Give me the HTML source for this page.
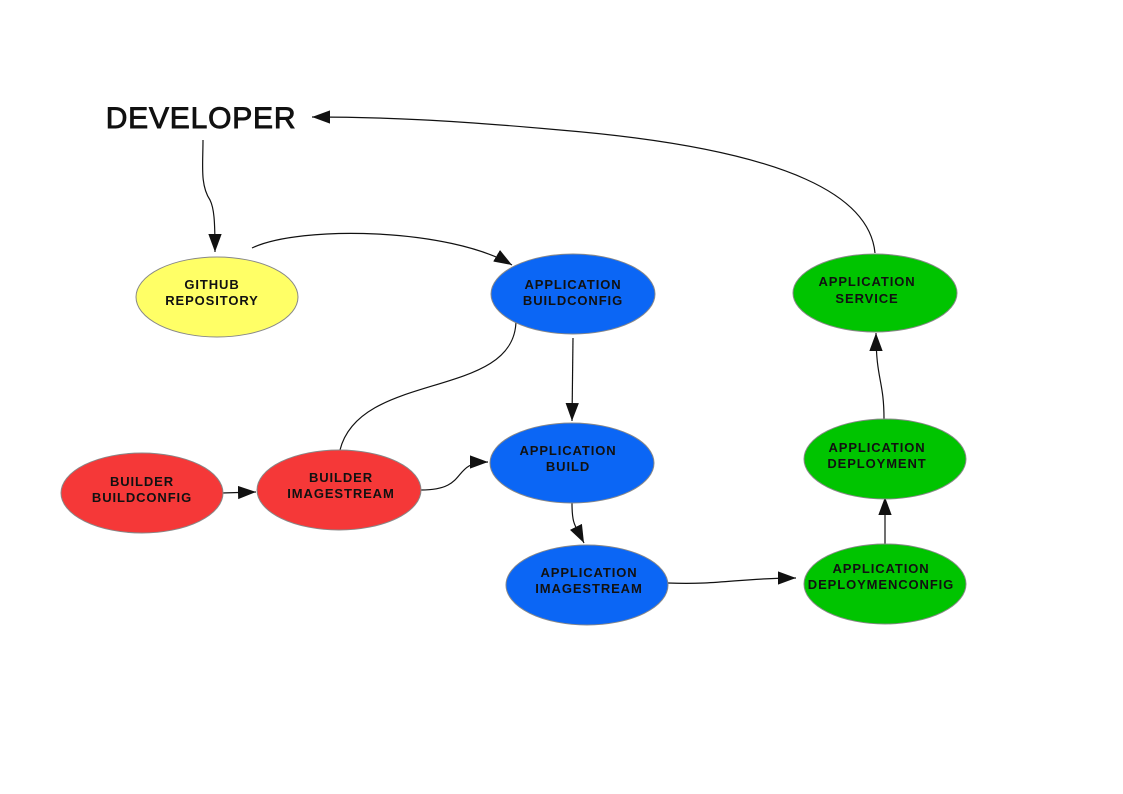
<!DOCTYPE html>
<html><head><meta charset="utf-8"><style>
html,body{margin:0;padding:0;background:#fff;}
svg{display:block;}
text{font-family:"Liberation Sans",Arial,sans-serif;font-weight:bold;font-size:13px;fill:#111;text-anchor:middle;letter-spacing:0.9px;}
</style></head><body>
<svg width="1123" height="794" viewBox="0 0 1123 794" xmlns="http://www.w3.org/2000/svg">
<defs>
<marker id="a" viewBox="0 0 10 10" refX="10" refY="5" markerWidth="18" markerHeight="18" markerUnits="userSpaceOnUse" orient="auto">
<path d="M0,1.3 L10,5 L0,8.7 z" fill="#111"/></marker>
</defs>
<g fill="none" stroke="#111" stroke-width="1.2">
<path d="M203,140 C203,165 200,185 210,200 C214,208 215,220 215,252" marker-end="url(#a)"/>
<path d="M252,248 C300,225 450,228 512,265" marker-end="url(#a)"/>
<path d="M875,253 C870,200 800,150 560,130 C450,120 380,117 312,117" marker-end="url(#a)"/>
<path d="M573,338 L572,421" marker-end="url(#a)"/>
<path d="M516,320 C516,400 360,370 340,450"/>
<path d="M222,493 L256,492" marker-end="url(#a)"/>
<path d="M421,490 C470,490 450,462 488,462" marker-end="url(#a)"/>
<path d="M572,503 C572,525 575,525 584,543" marker-end="url(#a)"/>
<path d="M668,583 C720,585 740,578 796,578" marker-end="url(#a)"/>
<path d="M885,544 L885,497" marker-end="url(#a)"/>
<path d="M884,419 C884,380 876,380 876,333" marker-end="url(#a)"/>
</g>
<g stroke="#888" stroke-width="1">
<ellipse cx="217" cy="297" rx="81" ry="40" fill="#ffff66"/>
<ellipse cx="573" cy="294" rx="82" ry="40" fill="#0b66f5"/>
<ellipse cx="875" cy="293" rx="82" ry="39" fill="#00c400"/>
<ellipse cx="142" cy="493" rx="81" ry="40" fill="#f53838"/>
<ellipse cx="339" cy="490" rx="82" ry="40" fill="#f53838"/>
<ellipse cx="572" cy="463" rx="82" ry="40" fill="#0b66f5"/>
<ellipse cx="885" cy="459" rx="81" ry="40" fill="#00c400"/>
<ellipse cx="587" cy="585" rx="81" ry="40" fill="#0b66f5"/>
<ellipse cx="885" cy="584" rx="81" ry="40" fill="#00c400"/>
</g>
<text x="201" y="128" style="font-size:30px;font-weight:normal;letter-spacing:0.8px;" stroke="#111" stroke-width="0.9">DEVELOPER</text>
<text x="212" y="289">GITHUB</text><text x="212" y="305">REPOSITORY</text>
<text x="573" y="289">APPLICATION</text><text x="573" y="305">BUILDCONFIG</text>
<text x="867" y="286">APPLICATION</text><text x="867" y="303">SERVICE</text>
<text x="142" y="486">BUILDER</text><text x="142" y="502">BUILDCONFIG</text>
<text x="341" y="482">BUILDER</text><text x="341" y="498">IMAGESTREAM</text>
<text x="568" y="455">APPLICATION</text><text x="568" y="471">BUILD</text>
<text x="877" y="452">APPLICATION</text><text x="877" y="468">DEPLOYMENT</text>
<text x="589" y="577">APPLICATION</text><text x="589" y="593">IMAGESTREAM</text>
<text x="881" y="573">APPLICATION</text><text x="881" y="589">DEPLOYMENCONFIG</text>
</svg>
</body></html>
